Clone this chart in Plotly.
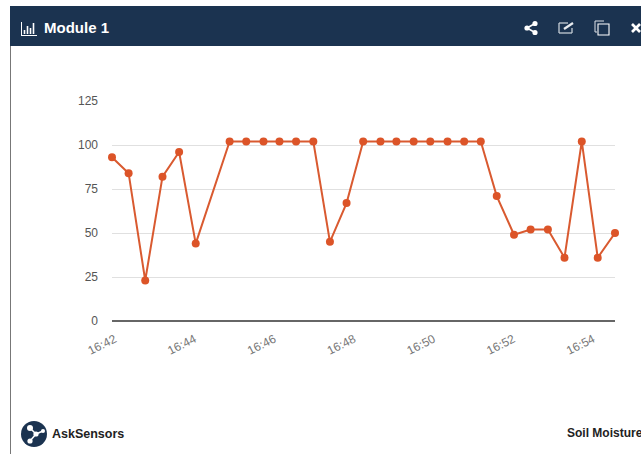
import plotly.graph_objects as go

W, H = 641, 454
X0, X1 = 112, 615
TOP, BOT = 101, 321

times = ["16:41:50","16:42:15","16:42:40","16:43:06","16:43:31","16:43:56","16:44:47","16:45:12",
         "16:45:38","16:46:02","16:46:27","16:46:53","16:47:18","16:47:43","16:48:08","16:48:34",
         "16:48:58","16:49:24","16:49:49","16:50:15","16:50:40","16:51:05","16:51:29","16:51:55",
         "16:52:20","16:52:46","16:53:11","16:53:37","16:54:01","16:54:27"]
moisture = [93,84,23,82,96,44,102,102,102,102,102,102,45,67,102,102,102,102,102,102,102,102,71,49,52,52,36,102,36,50]
tick_times = ["16:42","16:44","16:46","16:48","16:50","16:52","16:54"]
y_ticks = [0,25,50,75,100,125]

DATE = "2019-01-01 "
NAVY = "#1b3350"

# pixel -> paper conversion (paper spans the plot area; margins are wide enough to stop automargin)
def px(x): return (x - X0) / (X1 - X0)
def py(y): return (BOT - y) / (BOT - TOP)

shapes = []
def rect(x0, y0, x1, y1, fill, line=None, w=0, layer="below"):
    shapes.append(dict(type="rect", xref="paper", yref="paper", x0=px(x0), x1=px(x1), y0=py(y1), y1=py(y0),
                       fillcolor=fill, line=dict(color=line or fill, width=w), layer=layer))
def seg(x0, y0, x1, y1, color, w=1.5):
    shapes.append(dict(type="line", xref="paper", yref="paper", x0=px(x0), x1=px(x1), y0=py(y0), y1=py(y1),
                       line=dict(color=color, width=w), layer="above"))
def disc(cx, cy, r, fill):
    shapes.append(dict(type="circle", xref="paper", yref="paper", x0=px(cx-r), x1=px(cx+r), y0=py(cy+r), y1=py(cy-r),
                       fillcolor=fill, line=dict(color=fill, width=0), layer="above"))

# card frame and header
rect(10, 46, 11, 454, "#777777")
rect(10, 6, 641, 46, NAVY)

# chart icon in header
seg(21.5, 22, 21.5, 35, "#ffffff", 1)
seg(21, 35.5, 37, 35.5, "#ffffff", 1)
for x, top in [(24.5, 30), (27.5, 26), (30.5, 28), (33.5, 23)]:
    seg(x, top, x, 34, "#ffffff", 1.6)

# share icon
seg(527, 28, 535, 23.5, "#ffffff", 1.5)
seg(527, 28, 535, 32.5, "#ffffff", 1.5)
disc(527, 28, 2.6, "#ffffff"); disc(535, 23.5, 2.6, "#ffffff"); disc(535, 32.5, 2.6, "#ffffff")
# edit icon
for a in [(559, 23, 559, 33), (559, 33, 572, 33), (572, 33, 572, 28), (559, 23, 568, 23)]:
    seg(*a, "#c4ccd4", 1.3)
seg(564, 29, 573, 23, "#e8ebee", 2.2)
# copy icon
for a in [(595, 21, 604, 21), (595, 21, 595, 32), (595, 32, 597, 32)]:
    seg(*a, "#dfe3e8", 1.0)
shapes.append(dict(type="rect", xref="paper", yref="paper", x0=px(598), x1=px(609), y0=py(35), y1=py(24),
                   fillcolor="rgba(0,0,0,0)", line=dict(color="#ffffff", width=1.1), layer="above"))
# close icon
seg(632, 24, 640, 32, "#ffffff", 2.6)
seg(632, 32, 640, 24, "#ffffff", 2.6)

# logo
disc(34, 434, 13, NAVY)
seg(30, 428, 36, 434, "#ffffff", 1.5); seg(36, 434, 30, 441, "#ffffff", 1.5); seg(36, 434, 43, 431, "#ffffff", 1.5)
disc(30, 428, 3, "#ffffff"); disc(30, 441, 2.6, "#ffffff"); disc(43, 431, 2, "#ffffff"); disc(36, 434, 2.6, "#ffffff")

fig = go.Figure(go.Scatter(
    x=[DATE + t for t in times], y=moisture, mode="lines+markers",
    line=dict(color="#d95a30", width=2), marker=dict(color="#dc5428", size=8),
    hoverinfo="skip", showlegend=False, cliponaxis=False))

FONT = "Liberation Sans, Arial, sans-serif"
def note(x, y, text, size, color, anchor="left"):
    return dict(xref="paper", yref="paper", x=px(x), y=py(y), text=text, showarrow=False, xanchor=anchor,
                yanchor="middle", font=dict(family=FONT, size=size, color=color))

fig.update_layout(
    width=W, height=H, autosize=False,
    margin=dict(l=X0, r=W - X1, t=TOP, b=H - BOT, pad=0),
    paper_bgcolor="#ffffff", plot_bgcolor="#ffffff", showlegend=False,
    font=dict(family=FONT, size=12, color="#555555"), shapes=shapes,
    annotations=[
        note(42, 27.5, "<b>Module 1</b>", 15, "#ffffff"),
        note(50, 434, "<b>AskSensors</b>", 12.5, "#222222"),
        note(565, 433, "<b>Soil Moisture</b>", 12, "#222222"),
    ],
    xaxis=dict(
        type="date", automargin=False,
        range=[DATE + times[0], DATE + times[-1]],
        tickmode="array", tickvals=[DATE + t + ":00" for t in tick_times], ticktext=tick_times,
        tickangle=-27, ticks="", showgrid=False, zeroline=False, showline=False,
        ticklabelstandoff=8, ticklabelshift=-4, tickfont=dict(size=12, color="#777777"),
    ),
    yaxis=dict(
        range=[0, 125], tickmode="array", tickvals=y_ticks, automargin=False,
        gridcolor="#e0e0e0", gridwidth=1, zeroline=True, zerolinecolor="#666666", zerolinewidth=1.5,
        showline=False, ticks="", ticklabelstandoff=13, tickfont=dict(size=12, color="#555555"),
    ),
)
fig.write_html("out.html", config={"displayModeBar": False},
               post_script="document.body.style.margin='0';document.body.style.overflow='hidden';")
